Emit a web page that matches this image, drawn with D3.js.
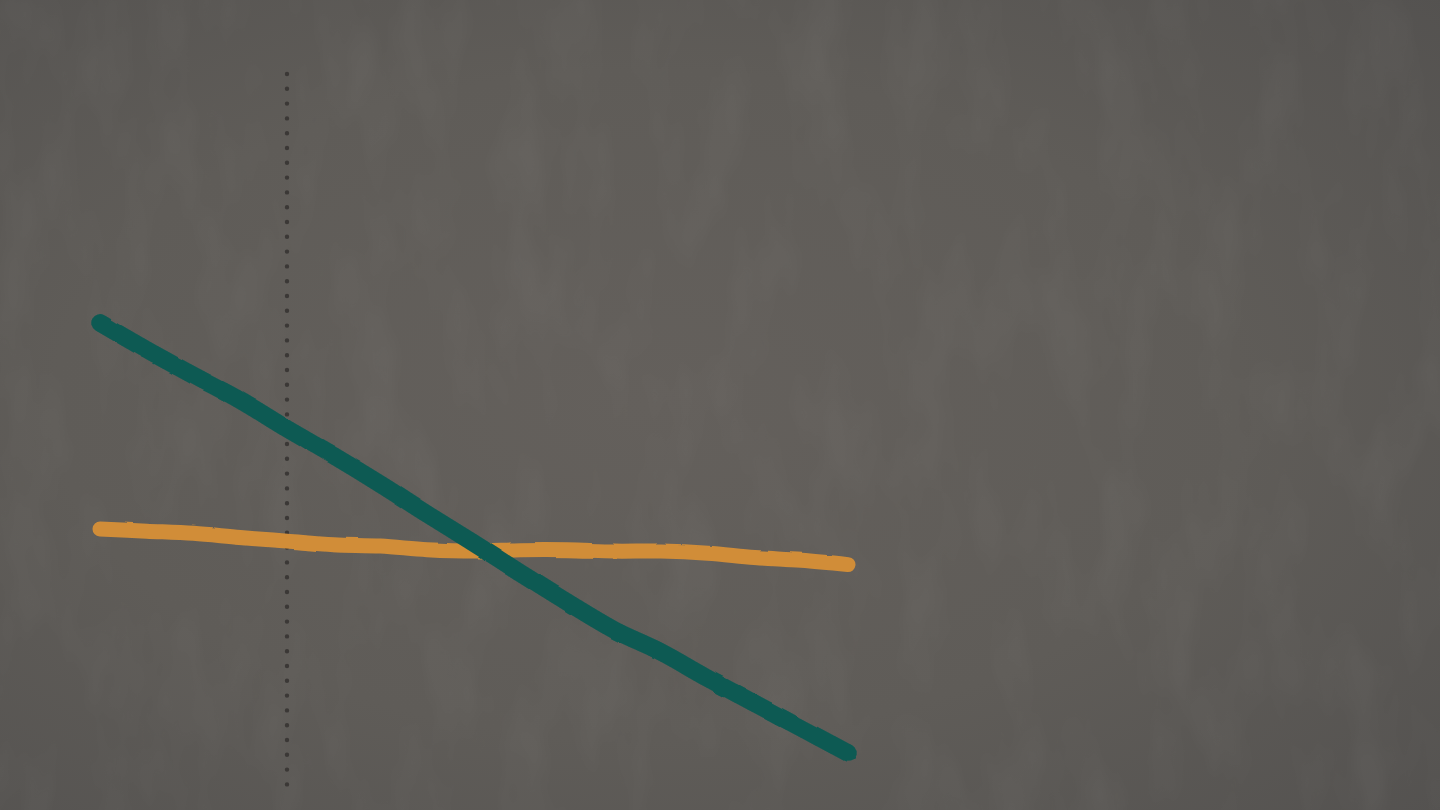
<!DOCTYPE html>
<html>
<head>
<meta charset="utf-8">
<script src="https://cdn.jsdelivr.net/npm/d3@7"></script>
<style>
  html, body { margin: 0; padding: 0; background: #5f5c59; overflow: hidden; }
  svg { display: block; }
</style>
</head>
<body>
<div id="chart"></div>
<script>
// period index along the x axis
const periods = [0, 1, 2, 3, 4, 5, 6, 7, 8, 9, 10, 11, 12, 13, 14, 15, 16];

// teal series, falls steadily
const tealValues = [65.0, 61.2, 57.6, 54.1, 50.1, 46.3, 42.3, 38.1, 34.0, 29.8, 25.7, 21.8, 18.7, 15.0, 11.5, 8.0, 4.5];

// orange series, nearly flat
const orangeValues = [36.0, 35.7, 35.4, 34.8, 34.3, 33.8, 33.6, 33.1, 32.9, 33.1, 33.1, 32.9, 32.9, 32.6, 32.0, 31.6, 31.0];

// dotted marker sits at this period
const markerPeriod = 4;

const width = 1440, height = 810;

const svg = d3.select("#chart")
    .append("svg")
    .attr("width", width)
    .attr("height", height);

const defs = svg.append("defs");

// canvas-like background: vignette + faint streaky noise
const vig = defs.append("radialGradient")
    .attr("id", "vig")
    .attr("cx", "45%").attr("cy", "50%").attr("r", "75%");
vig.append("stop").attr("offset", "0%").attr("stop-color", "#64605c");
vig.append("stop").attr("offset", "55%").attr("stop-color", "#5f5c58");
vig.append("stop").attr("offset", "100%").attr("stop-color", "#545250");

const tex = defs.append("filter")
    .attr("id", "tex")
    .attr("x", 0).attr("y", 0).attr("width", "100%").attr("height", "100%");
tex.append("feTurbulence")
    .attr("type", "fractalNoise")
    .attr("baseFrequency", "0.02 0.008")
    .attr("numOctaves", 3)
    .attr("seed", 7)
    .attr("result", "n");
tex.append("feColorMatrix")
    .attr("type", "matrix")
    .attr("values", "0 0 0 0 0.45  0 0 0 0 0.44  0 0 0 0 0.42  1.4 0 0 0 -0.6");

// slight wobble for hand-drawn strokes
const rough = defs.append("filter")
    .attr("id", "rough")
    .attr("x", "-5%").attr("y", "-20%").attr("width", "110%").attr("height", "140%");
rough.append("feTurbulence")
    .attr("type", "fractalNoise")
    .attr("baseFrequency", 0.03)
    .attr("numOctaves", 2)
    .attr("seed", 3)
    .attr("result", "t");
rough.append("feDisplacementMap")
    .attr("in", "SourceGraphic")
    .attr("in2", "t")
    .attr("scale", 2.5)
    .attr("xChannelSelector", "R")
    .attr("yChannelSelector", "G");

svg.append("rect")
    .attr("width", width).attr("height", height)
    .attr("fill", "url(#vig)");
svg.append("rect")
    .attr("width", width).attr("height", height)
    .attr("filter", "url(#tex)")
    .attr("opacity", 0.1);

// scales
const x = d3.scaleLinear()
    .domain(d3.extent(periods))
    .range([100, 848]);

const y = d3.scaleLinear()
    .domain([0, 100])
    .range([785, 74]);

// dotted marker
svg.append("line")
    .attr("x1", x(markerPeriod)).attr("x2", x(markerPeriod))
    .attr("y1", y(100)).attr("y2", y(0))
    .attr("stroke", "#3b3836")
    .attr("stroke-width", 4.4)
    .attr("stroke-linecap", "round")
    .attr("stroke-dasharray", "0 14.8");

const line = d3.line()
    .x((d, i) => x(periods[i]))
    .y(d => y(d))
    .curve(d3.curveCatmullRom.alpha(0.5));

// orange first, teal crosses over it
svg.append("path")
    .datum(orangeValues)
    .attr("d", line)
    .attr("fill", "none")
    .attr("stroke", "#d18d38")
    .attr("stroke-width", 15)
    .attr("stroke-linecap", "round")
    .attr("stroke-linejoin", "round")
    .attr("filter", "url(#rough)");

svg.append("path")
    .datum(tealValues)
    .attr("d", line)
    .attr("fill", "none")
    .attr("stroke", "#0b5a53")
    .attr("stroke-width", 17.5)
    .attr("stroke-linecap", "round")
    .attr("stroke-linejoin", "round")
    .attr("filter", "url(#rough)");
</script>
</body>
</html>
